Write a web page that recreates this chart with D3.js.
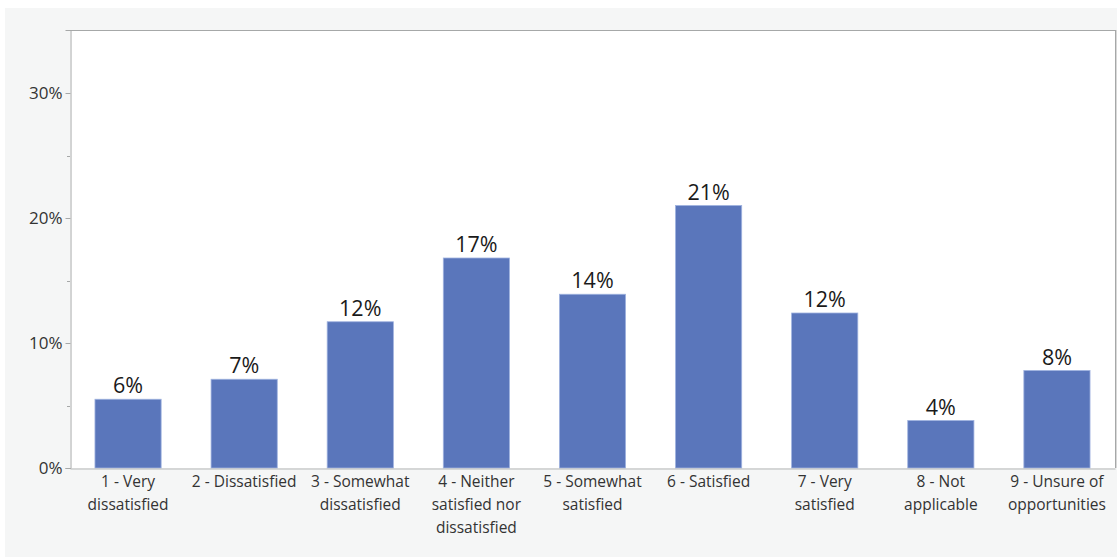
<!DOCTYPE html>
<html>
<head>
<meta charset="utf-8">
<script src="https://cdn.jsdelivr.net/npm/d3@7"></script>
<style>
  html, body { margin: 0; padding: 0; background: #ffffff; }
  svg { display: block; font-family: "Open Sans", "Noto Sans", sans-serif; }
</style>
</head>
<body>
<svg id="chart" width="1120" height="557"></svg>
<script>
// Survey responses: share of respondents per satisfaction level
const categories = [
  "1 - Very dissatisfied",
  "2 - Dissatisfied",
  "3 - Somewhat dissatisfied",
  "4 - Neither satisfied nor dissatisfied",
  "5 - Somewhat satisfied",
  "6 - Satisfied",
  "7 - Very satisfied",
  "8 - Not applicable",
  "9 - Unsure of opportunities"
];
// Label lines under each bar
const categoryLines = [
  ["1 - Very", "dissatisfied"],
  ["2 - Dissatisfied"],
  ["3 - Somewhat", "dissatisfied"],
  ["4 - Neither", "satisfied nor", "dissatisfied"],
  ["5 - Somewhat", "satisfied"],
  ["6 - Satisfied"],
  ["7 - Very", "satisfied"],
  ["8 - Not", "applicable"],
  ["9 - Unsure of", "opportunities"]
];
const shares = [0.055, 0.071, 0.117, 0.168, 0.139, 0.210, 0.124, 0.038, 0.078];
const yTicks = [0, 0.10, 0.20, 0.30];
const yMinorTicks = [0.05, 0.15, 0.25];

const svg = d3.select("#chart");
const frame = { left: 5, top: 8, right: 1117, bottom: 557 };
const plot = { left: 70, top: 30, right: 1115, bottom: 468 };

// outer panel
svg.append("rect")
  .attr("x", frame.left).attr("y", frame.top)
  .attr("width", frame.right - frame.left).attr("height", frame.bottom - frame.top)
  .attr("fill", "#f5f6f6");

// plot area
svg.append("rect")
  .attr("x", plot.left).attr("y", plot.top)
  .attr("width", plot.right - plot.left).attr("height", plot.bottom - plot.top)
  .attr("fill", "#ffffff");

const x = d3.scaleBand()
  .domain(categories)
  .range([plot.left, plot.right])
  .paddingInner(0.43)
  .paddingOuter(0.215);

const y = d3.scaleLinear()
  .domain([0, 0.3504])
  .range([plot.bottom, plot.top]);

// bars
svg.append("g").selectAll("rect")
  .data(shares)
  .join("rect")
  .attr("x", (d, i) => x(categories[i]))
  .attr("y", d => y(d))
  .attr("width", x.bandwidth())
  .attr("height", d => y(0) - y(d))
  .attr("fill", "#5a76bb")
  .attr("stroke", "#9fb2df")
  .attr("stroke-width", 0.8);

// value labels
const pct = d3.format(".0%");
svg.append("g").selectAll("text")
  .data(shares)
  .join("text")
  .attr("x", (d, i) => x(categories[i]) + x.bandwidth() / 2)
  .attr("y", d => y(d) - 6)
  .attr("text-anchor", "middle")
  .attr("font-size", 21.5)
  .attr("fill", "#1a1a1a")
  .text(d => pct(d));

// plot frame: top and right edges
svg.append("line")
  .attr("x1", plot.left).attr("x2", plot.right)
  .attr("y1", plot.top + 0.5).attr("y2", plot.top + 0.5)
  .attr("stroke", "#a6a8a8");
svg.append("line")
  .attr("x1", plot.right + 0.5).attr("x2", plot.right + 0.5)
  .attr("y1", plot.top).attr("y2", plot.bottom)
  .attr("stroke", "#a6a8a8");
svg.append("line")
  .attr("x1", plot.right + 1.5).attr("x2", plot.right + 1.5)
  .attr("y1", plot.top).attr("y2", plot.bottom)
  .attr("stroke", "#d8d8d8");

// y axis
const yAxis = d3.axisLeft(y)
  .tickValues(yTicks)
  .tickFormat(d3.format(".0%"))
  .tickSize(5)
  .tickPadding(3);
const gy = svg.append("g")
  .attr("transform", `translate(${plot.left + 0.5},0)`)
  .call(yAxis);
gy.select(".domain").attr("stroke", "#a6a8a8");
gy.selectAll(".tick line").attr("stroke", "#a6a8a8");
gy.selectAll(".tick text")
  .attr("font-size", 17)
  .attr("fill", "#333333")
  .attr("font-family", "\"Open Sans\", sans-serif");

// minor y ticks
svg.append("g").selectAll("line")
  .data(yMinorTicks)
  .join("line")
  .attr("x1", plot.left - 3).attr("x2", plot.left)
  .attr("y1", d => Math.round(y(d)) + 0.5).attr("y2", d => Math.round(y(d)) + 0.5)
  .attr("stroke", "#a6a8a8");

// x axis
const xAxis = d3.axisBottom(x).tickSize(0).tickFormat("");
const gx = svg.append("g")
  .attr("transform", `translate(0,${plot.bottom + 0.5})`)
  .call(xAxis);
gx.select(".domain").attr("stroke", "#b5b7b7");

// category labels, wrapped
const labels = svg.append("g").selectAll("text")
  .data(categories)
  .join("text")
  .attr("x", d => x(d) + x.bandwidth() / 2)
  .attr("y", plot.bottom + 19)
  .attr("text-anchor", "middle")
  .attr("font-size", 15.5)
  .attr("fill", "#333333");
labels.each(function(d, i) {
  d3.select(this).selectAll("tspan")
    .data(categoryLines[i])
    .join("tspan")
    .attr("x", x(d) + x.bandwidth() / 2)
    .attr("dy", (t, j) => j === 0 ? 0 : 23)
    .text(t => t);
});
</script>
</body>
</html>
